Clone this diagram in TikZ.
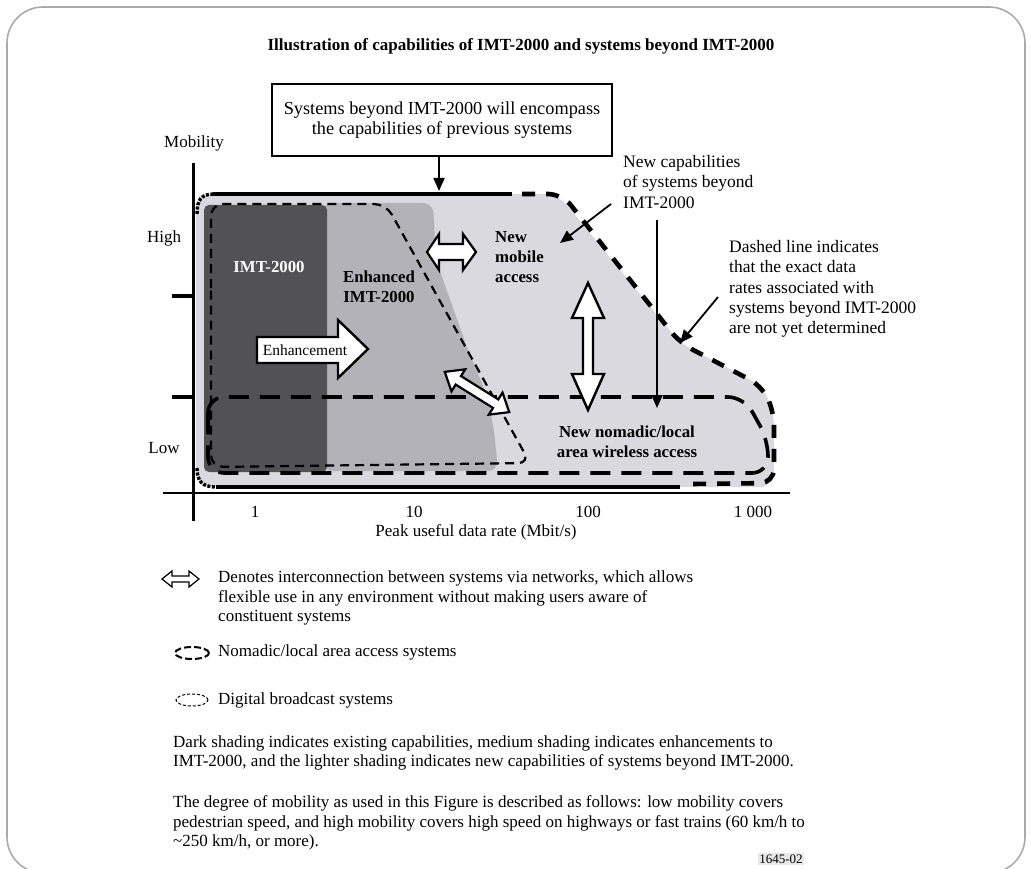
\documentclass[tikz,border=0pt]{standalone}
\usepackage{fontspec}
\setmainfont{Liberation Serif}
\usetikzlibrary{arrows.meta}
\definecolor{darkfill}{RGB}{82,82,84}
\definecolor{medfill}{RGB}{178,178,184}
\definecolor{lightfill}{RGB}{217,217,223}
\definecolor{framegray}{RGB}{170,170,170}
\definecolor{tagbg}{RGB}{232,232,232}
\begin{document}
\begin{tikzpicture}[x=1pt,y=-1pt,
  txt/.style={inner sep=0pt, font=\fontsize{17}{19.5}\selectfont, align=left},
  axl/.style={inner sep=0pt, font=\fontsize{17}{19.5}\selectfont},
  rtxt/.style={inner sep=0pt, font=\fontsize{17.5}{20.3}\selectfont, align=left},
  lbl/.style={inner sep=0pt, font=\fontsize{16.8}{20}\selectfont\bfseries},
  ptr/.style={line width=1.8pt, -{Triangle[length=13pt,width=11pt]}},
  bigarrow/.style={draw=black, fill=white, line width=2.4pt, line join=miter},
  nomadic/.style={line width=3.6pt, dash pattern=on 20pt off 11pt},
  broadcast/.style={line width=2.2pt, dash pattern=on 9pt off 6pt},
  outerdash/.style={line width=4.6pt, dash pattern=on 13pt off 11pt},
  outersolid/.style={line width=4.6pt},
]
\useasboundingbox (0,0) rectangle (1031,869);
\draw[framegray, line width=1.6pt, rounded corners=36pt] (7,7) rectangle (1025,873);

% title
\node[inner sep=0pt, font=\fontsize{17}{20}\selectfont\bfseries] (title) at (521,46) {Illustration of capabilities of IMT-2000 and systems beyond IMT-2000};

% shaded regions
\fill[lightfill, rounded corners=14pt] (196,194) -- (558,194) -- (680,343) -- (762,386) -- (774,412) -- (774,487) -- (196,487) -- cycle;
\fill[medfill, rounded corners=10pt] (322,203) -- (433,203) -- (436,260) -- (452,305) -- (468,350) -- (487,395) -- (494,430) -- (498,471) -- (322,471) -- cycle;
\fill[darkfill, rounded corners=5pt] (204,205) rectangle (327,472);

% boundaries
\draw[broadcast, rounded corners=12pt] (211,300) -- (211,204) -- (386,204) -- (530,463) -- (211,467) -- cycle;
\draw[nomadic, rounded corners=16pt] (208,430) -- (208,397) -- (744,397) -- (768,440) -- (768,473) -- (208,473) -- cycle;
\draw[outersolid] (213,194) -- (512,194);
\draw[outersolid] (216,487) -- (680,487);
\draw[line width=3.4pt, dash pattern=on 3pt off 1.5pt] (197,214) .. controls (197,200) and (201,194) .. (214,194);
\draw[line width=3.4pt, dash pattern=on 3pt off 1.5pt] (197,468) .. controls (197,481) and (202,487) .. (216,487);
\draw[outerdash, rounded corners=14pt] (522,194) -- (562,194) -- (680,343) -- (762,386) -- (774,412) -- (774,483) -- (693,484);

% axes
\draw[line width=3pt] (193,163) -- (193,521);
\draw[line width=2.6pt] (163,493) -- (790,493);
\draw[line width=4pt] (172,296) -- (193,296);
\draw[line width=4pt] (172,397) -- (193,397);

\node[axl] (mob) at (194,143) {Mobility};
\node[axl] (high) at (164,238) {High};
\node[axl] (low) at (164,448) {Low};
\node[axl] (x1) at (255,512) {1};
\node[axl] (x10) at (414,512) {10};
\node[axl] (x100) at (588,512) {100};
\node[axl] (x1000) at (753,512) {1 000};
\node[axl] (xlab) at (476,532) {Peak useful data rate (Mbit/s)};

% top box
\node[draw, line width=2pt, minimum width=340pt, minimum height=72pt, align=center, font=\fontsize{18.3}{20.5}\selectfont, inner sep=0pt] (box) at (442,120) {Systems beyond IMT-2000 will encompass\\the capabilities of previous systems};
\coordinate (boxtip) at (439,191);
\draw[ptr] (box.south -| boxtip) -- (boxtip);

% block arrows
\draw[bigarrow] (257,337) -- (338,337) -- (338,320) -- (368,349) -- (338,378) -- (338,363) -- (257,363) -- cycle;
\node[inner sep=0pt, font=\fontsize{15.5}{18}\selectfont] (enh) at (305,350) {Enhancement};
\draw[bigarrow, line width=2.2pt] (427,252) -- (439,234) -- (439,244) -- (463,244) -- (463,234) -- (476,252) -- (463,270) -- (463,260) -- (439,260) -- (439,270) -- cycle;
\draw[bigarrow] (588,283) -- (604,318) -- (593,318) -- (593,374) -- (604,374) -- (588,410) -- (572,374) -- (583,374) -- (583,318) -- (572,318) -- cycle;
\begin{scope}[shift={(477,392)}, rotate=-32]
\draw[bigarrow, line width=2.2pt] (-38,0) -- (-22,-13) -- (-22,-5) -- (22,-5) -- (22,-13) -- (38,0) -- (22,13) -- (22,5) -- (-22,5) -- (-22,13) -- cycle;
\end{scope}

% region labels
\node[lbl, text=white] (imt) at (269,267) {IMT-2000};
\node[lbl, align=center] (eimt) at (379,287) {Enhanced\\IMT-2000};
\node[lbl, align=left, anchor=west] (nma) at (495,257) {New\\mobile\\access};
\node[lbl, align=center] (nnl) at (627,442) {New nomadic/local\\area wireless access};

% annotations
\node[rtxt, anchor=west] (newcap) at (623,182) {New capabilities\\of systems beyond\\IMT-2000};
\coordinate (nca) at (611,204);
\coordinate (ncb) at (560,243);
\draw[ptr] (nca) -- (ncb);
\coordinate (vla) at (657,220);
\coordinate (vlb) at (657,408);
\draw[ptr] (vla) -- (vlb);
\node[rtxt, anchor=west] (dashnote) at (729,289) {Dashed line indicates\\that the exact data\\rates associated with\\systems beyond IMT-2000\\are not yet determined};
\coordinate (dna) at (718,297);
\coordinate (dnb) at (680,343);
\draw[ptr] (dna) -- (dnb);

% legend
\draw[line width=1.2pt, fill=white] (162,579) -- (172,571) -- (172,576) -- (189,576) -- (189,571) -- (199,579) -- (189,587) -- (189,582) -- (172,582) -- (172,587) -- cycle;
\node[txt, anchor=west] (leg1) at (218,598) {Denotes interconnection between systems via networks, which allows\\flexible use in any environment without making users aware of\\constituent systems};
\draw[line width=2pt, dash pattern=on 7pt off 3pt] (192,653) ellipse [x radius=17pt, y radius=6pt];
\node[txt, anchor=west] (leg2) at (218,652) {Nomadic/local area access systems};
\draw[line width=1pt, dash pattern=on 3pt off 2pt] (192,700) ellipse [x radius=16pt, y radius=6pt];
\node[txt, anchor=west] (leg3) at (218,700) {Digital broadcast systems};

\node[txt, anchor=west] (para1) at (173,753) {Dark shading indicates existing capabilities, medium shading indicates enhancements to\\IMT-2000, and the lighter shading indicates new capabilities of systems beyond IMT-2000.};
\node[txt, anchor=west] (para2) at (173,823) {The degree of mobility as used in this Figure is described as follows: low mobility covers\\pedestrian speed, and high mobility covers high speed on highways or fast trains (60 km/h to\\\textasciitilde250 km/h, or more).};
\node[fill=tagbg, inner sep=1.5pt, font=\fontsize{13}{15}\selectfont] (tag) at (781,859) {1645-02};
\end{tikzpicture}
\end{document}
